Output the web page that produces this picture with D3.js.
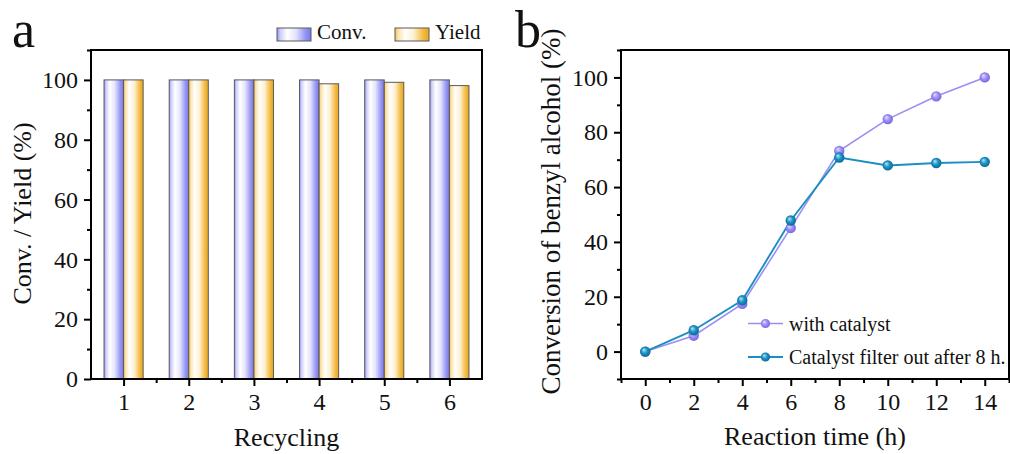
<!DOCTYPE html>
<html>
<head>
<meta charset="utf-8">
<script src="https://cdn.jsdelivr.net/npm/d3@7/dist/d3.min.js"></script>
<style>
  html, body { margin: 0; padding: 0; background: #fff; }
  svg { display: block; }
  text { font-family: "Liberation Serif", "Times New Roman", serif; fill: #111; }
</style>
</head>
<body>
<svg id="fig" width="1010" height="454"></svg>
<script>
// Panel a: catalyst recycling
const cycles = [1, 2, 3, 4, 5, 6];
const convValues = [100, 100, 100, 100, 100, 100];
const yieldValues = [100, 100, 100, 98.7, 99.2, 98.1];
const barTicksY = [0, 20, 40, 60, 80, 100];
const barMinorY = [10, 30, 50, 70, 90, 110];
const barMinorX = [1.5, 2.5, 3.5, 4.5, 5.5];

// Panel b: conversion vs. reaction time
const times = [0, 2, 4, 6, 8, 10, 12, 14];
const withCatalyst = [0, 5.8, 17.4, 45.1, 73.2, 84.8, 93.1, 100];
const filteredOut = [0, 7.8, 18.7, 47.8, 70.8, 67.9, 68.8, 69.2];
const lineTicksX = [0, 2, 4, 6, 8, 10, 12, 14];
const lineMinorX = [-1, 1, 3, 5, 7, 9, 11, 13, 15];
const lineTicksY = [0, 20, 40, 60, 80, 100];
const lineMinorY = [-10, 10, 30, 50, 70, 90, 110];
const seriesNames = ["with catalyst", "Catalyst filter out after 8 h."];

const svg = d3.select("#fig");
const defs = svg.append("defs");
const fontStack = "'Liberation Serif', 'Times New Roman', serif";

function barGradient(id, stops) {
  const g = defs.append("linearGradient").attr("id", id)
    .attr("x1", "0%").attr("x2", "100%").attr("y1", "0%").attr("y2", "0%");
  stops.forEach(([o, c]) => g.append("stop").attr("offset", o).attr("stop-color", c));
}
barGradient("gConv", [["0%", "#9595f4"], ["10%", "#cfcffb"], ["30%", "#ffffff"], ["55%", "#e4e4fd"], ["85%", "#9292f2"], ["100%", "#7a7aec"]]);
barGradient("gYield", [["0%", "#f6c04c"], ["10%", "#fce3ab"], ["30%", "#ffffff"], ["55%", "#fdf0d0"], ["85%", "#f3b73a"], ["100%", "#e6a622"]]);

function sphere(id, hi, mid, lo) {
  const g = defs.append("radialGradient").attr("id", id)
    .attr("cx", "50%").attr("cy", "50%").attr("r", "60%").attr("fx", "35%").attr("fy", "32%");
  g.append("stop").attr("offset", "0%").attr("stop-color", hi);
  g.append("stop").attr("offset", "45%").attr("stop-color", mid);
  g.append("stop").attr("offset", "100%").attr("stop-color", lo);
}
sphere("sPurple", "#e4e0ff", "#9d90f8", "#6a5ad8");
sphere("sTeal", "#b8e8f8", "#1d95c9", "#0b5a85");

function frame(g, x0, y0, x1, y1) {
  g.append("rect").attr("x", x0).attr("y", y0).attr("width", x1 - x0).attr("height", y1 - y0)
    .attr("fill", "none").attr("stroke", "#000").attr("stroke-width", 2);
}

function styleAxis(sel) {
  sel.attr("font-family", fontStack);
  sel.select(".domain").remove();
  sel.selectAll(".tick line").attr("stroke", "#000").attr("stroke-width", 2);
  sel.selectAll(".tick text").attr("font-size", 24)
    .attr("font-family", fontStack).attr("fill", "#111");
}

const intFmt = d3.format("d");

// ---------- Panel a ----------
{
  const L = 91, R = 482, T = 50, B = 379;
  const x = d3.scaleLinear().domain([0.5, 6.5]).range([L, R]);
  const y = d3.scaleLinear().domain([0, 110]).range([B, T]);
  const g = svg.append("g");
  const bw = 0.3;

  g.selectAll("rect.conv").data(cycles).join("rect").attr("class", "conv")
    .attr("x", (d) => x(d - bw)).attr("width", (d) => x(d) - x(d - bw))
    .attr("y", (d, i) => y(convValues[i])).attr("height", (d, i) => y(0) - y(convValues[i]))
    .attr("fill", "url(#gConv)").attr("stroke", "#5a5a5a").attr("stroke-width", 1);
  g.selectAll("rect.yield").data(cycles).join("rect").attr("class", "yield")
    .attr("x", (d) => x(d)).attr("width", (d) => x(d + bw) - x(d))
    .attr("y", (d, i) => y(yieldValues[i])).attr("height", (d, i) => y(0) - y(yieldValues[i]))
    .attr("fill", "url(#gYield)").attr("stroke", "#5a5a5a").attr("stroke-width", 1);

  g.append("g").attr("transform", `translate(${L},0)`)
    .call(d3.axisLeft(y).tickValues(barTicksY).tickFormat(intFmt).tickSize(7).tickPadding(6)).call(styleAxis);
  g.append("g").attr("transform", `translate(${L},0)`)
    .call(d3.axisLeft(y).tickValues(barMinorY).tickSize(4).tickFormat("")).call(styleAxis);
  g.append("g").attr("transform", `translate(0,${B})`)
    .call(d3.axisBottom(x).tickValues(cycles).tickFormat(intFmt).tickSize(7).tickPadding(7)).call(styleAxis);
  g.append("g").attr("transform", `translate(0,${B})`)
    .call(d3.axisBottom(x).tickValues(barMinorX).tickSize(4).tickFormat("")).call(styleAxis);
  frame(g, L, T, R, B);

  g.append("text").attr("transform", `translate(31,${(T + B) / 2 - 1}) rotate(-90)`)
    .attr("text-anchor", "middle").attr("font-size", 26).text("Conv. / Yield (%)");
  g.append("text").attr("x", (L + R) / 2).attr("y", 446)
    .attr("text-anchor", "middle").attr("font-size", 26).text("Recycling");
  g.append("text").attr("x", 12).attr("y", 47).attr("font-size", 52).text("a");

  // legend
  const legend = [["Conv.", "url(#gConv)", 277], ["Yield", "url(#gYield)", 395]];
  legend.forEach(([name, fill, lx]) => {
    g.append("rect").attr("x", lx).attr("y", 28).attr("width", 34).attr("height", 13)
      .attr("fill", fill).attr("stroke", "#5a5a5a").attr("stroke-width", 1);
    g.append("text").attr("x", lx + 40).attr("y", 39).attr("font-size", 21).text(name);
  });
}

// ---------- Panel b ----------
{
  const L = 621, R = 1009, T = 50, B = 379;
  const x = d3.scaleLinear().domain([-1, 15]).range([L, R]);
  const y = d3.scaleLinear().domain([-10, 110]).range([B, T]);
  const g = svg.append("g");

  g.append("g").attr("transform", `translate(${L},0)`)
    .call(d3.axisLeft(y).tickValues(lineTicksY).tickFormat(intFmt).tickSize(7).tickPadding(6)).call(styleAxis);
  g.append("g").attr("transform", `translate(${L},0)`)
    .call(d3.axisLeft(y).tickValues(lineMinorY).tickSize(4).tickFormat("")).call(styleAxis);
  g.append("g").attr("transform", `translate(0,${B})`)
    .call(d3.axisBottom(x).tickValues(lineTicksX).tickFormat(intFmt).tickSize(7).tickPadding(7)).call(styleAxis);
  g.append("g").attr("transform", `translate(0,${B})`)
    .call(d3.axisBottom(x).tickValues(lineMinorX).tickSize(4).tickFormat("")).call(styleAxis);

  const series = [
    { values: withCatalyst, line: "#9b8ef3", fill: "url(#sPurple)", w: 1.6 },
    { values: filteredOut, line: "#1c8fc2", fill: "url(#sTeal)", w: 1.9 }
  ];
  const lineGen = d3.line().x((d) => x(d[0])).y((d) => y(d[1]));
  series.forEach((s) => {
    const pts = times.map((t, i) => [t, s.values[i]]);
    g.append("path").attr("d", lineGen(pts)).attr("fill", "none")
      .attr("stroke", s.line).attr("stroke-width", s.w);
  });
  series.forEach((s) => {
    const pts = times.map((t, i) => [t, s.values[i]]);
    g.selectAll(null).data(pts).join("circle")
      .attr("cx", (d) => x(d[0])).attr("cy", (d) => y(d[1])).attr("r", 5.2)
      .attr("fill", s.fill);
  });
  frame(g, L, T, R, B);

  // legend
  series.forEach((s, i) => {
    const ly = 323.5 + i * 33.5;
    g.append("line").attr("x1", 748).attr("x2", 783).attr("y1", ly).attr("y2", ly)
      .attr("stroke", s.line).attr("stroke-width", s.w);
    g.append("circle").attr("cx", 765.5).attr("cy", ly).attr("r", 4.6).attr("fill", s.fill);
    g.append("text").attr("x", 789).attr("y", ly + 7).attr("font-size", 20).text(seriesNames[i]);
  });

  g.append("text").attr("transform", `translate(560,${(T + B) / 2 - 3}) rotate(-90)`)
    .attr("text-anchor", "middle").attr("font-size", 27).text("Conversion of benzyl alcohol (%)");
  g.append("text").attr("x", (L + R) / 2).attr("y", 445)
    .attr("text-anchor", "middle").attr("font-size", 26).text("Reaction time (h)");
  g.append("text").attr("x", 515).attr("y", 47).attr("font-size", 52).text("b");
}
</script>
</body>
</html>
